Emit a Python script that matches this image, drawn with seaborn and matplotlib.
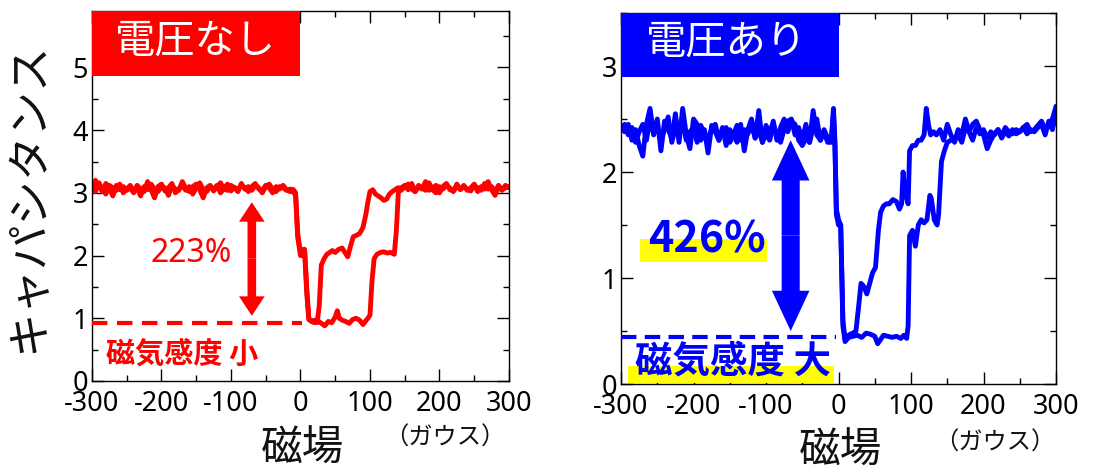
import numpy as np
import pandas as pd
import matplotlib
matplotlib.use("Agg")
import matplotlib.pyplot as plt
import seaborn as sns
from matplotlib.patches import Rectangle, FancyArrowPatch
from matplotlib.ticker import MultipleLocator

# ---------------- data ----------------
# flat part of each sweep, field -300 .. -15 G every 5 G
red_a_left = [3.05, 3.20, 3.10, 3.02, 3.15, 3.08, 2.95, 3.12, 3.05, 3.10,
              3.04, 3.08, 3.00, 3.12, 3.06, 3.02, 3.18, 3.05, 2.92, 3.10,
              3.14, 3.03, 3.08, 3.15, 3.00, 3.06, 3.12, 3.04, 3.10, 2.98,
              3.08, 3.16, 3.05, 3.02, 3.10, 3.06, 3.12, 3.00, 3.07, 3.14,
              3.03, 3.09, 3.05, 3.12, 3.08, 3.02, 3.10, 3.15, 3.06, 3.04,
              3.12, 3.08, 3.00, 3.10, 3.06, 3.12, 3.05, 3.02]
red_a_mid_x = [-10, -7, -4, 0, 3, 6, 9, 12, 16, 20, 24, 27, 30, 34, 38, 42, 46, 50, 55, 60,
               64, 68, 72, 76, 80, 85, 90, 94, 97, 100, 104, 108, 112, 116, 120, 124, 128, 132, 136, 140]
red_a_mid_y = [3.02, 2.95, 2.30, 2.00, 2.10, 2.05, 1.40, 0.98, 0.95, 0.97,
               0.93, 1.20, 1.85, 1.95, 2.02, 2.05, 2.08, 2.05, 2.10, 2.12,
               2.05, 1.98, 2.15, 2.30, 2.32, 2.35, 2.45, 2.65, 2.85, 3.02,
               3.05, 2.98, 2.95, 2.92, 2.88, 2.90, 2.98, 3.02, 3.05, 3.08]
red_a_right_start = 145
red_a_right = [3.08, 3.12, 3.05, 3.15, 3.02, 3.10, 3.06, 3.18, 3.04, 3.08,
               3.12, 3.00, 3.10, 3.15, 3.05, 3.03, 3.10, 3.06, 3.12, 3.04,
               3.08, 3.14, 3.02, 3.10, 3.06, 3.18, 3.05, 2.96, 3.10, 3.04,
               3.12, 3.08]

red_b_left = [3.10, 3.02, 3.16, 3.06, 2.98, 3.12, 3.08, 3.04, 3.14, 3.00,
              3.06, 3.12, 3.03, 3.08, 2.95, 3.10, 3.05, 3.14, 3.06, 3.02,
              3.10, 3.08, 2.96, 3.12, 3.06, 3.04, 3.18, 3.07, 3.02, 3.10,
              3.14, 3.05, 2.92, 3.08, 3.12, 3.03, 3.10, 3.16, 3.06, 3.04,
              3.12, 3.08, 3.02, 3.15, 3.06, 3.10, 3.04, 3.12, 3.08, 3.00,
              3.10, 3.14, 3.06, 3.02, 3.10, 3.08, 3.04, 3.06]
red_b_mid_x = [-10, -7, -4, 0, 3, 6, 9, 12, 16, 20, 25, 30, 35, 40, 45, 50, 53, 56, 60, 65,
               70, 75, 80, 85, 90, 94, 97, 100, 103, 106, 110, 115, 120, 125, 130, 135, 138, 141]
red_b_mid_y = [3.05, 3.00, 2.35, 2.05, 2.00, 2.10, 1.50, 1.00, 0.95, 0.93,
               0.96, 0.92, 0.88, 0.95, 0.93, 1.02, 1.12, 1.00, 0.97, 0.95,
               0.92, 0.98, 1.00, 0.97, 0.90, 0.96, 1.00, 1.05, 1.60, 1.95,
               2.02, 2.05, 2.06, 2.04, 2.05, 2.02, 2.40, 3.05]
red_b_right_start = 145
red_b_right = [3.04, 3.10, 3.14, 3.06, 3.02, 3.12, 3.08, 3.04, 3.16, 3.05,
               3.00, 3.10, 3.06, 3.12, 3.08, 3.02, 3.14, 3.05, 3.10, 3.06,
               3.03, 3.12, 3.08, 3.04, 3.15, 3.06, 3.10, 3.02, 3.12, 3.05,
               3.08, 3.10]

blue_a_left = [2.42, 2.38, 2.45, 2.30, 2.40, 2.25, 2.15, 2.45, 2.60, 2.35,
               2.50, 2.20, 2.48, 2.40, 2.32, 2.55, 2.28, 2.60, 2.35, 2.22,
               2.50, 2.45, 2.30, 2.40, 2.18, 2.44, 2.38, 2.30, 2.42, 2.25,
               2.40, 2.35, 2.28, 2.45, 2.20, 2.40, 2.50, 2.32, 2.58, 2.28,
               2.36, 2.30, 2.44, 2.35, 2.28, 2.40, 2.48, 2.50, 2.35, 2.42,
               2.30, 2.45, 2.28, 2.58, 2.35, 2.30, 2.40, 2.32]
blue_a_mid_x = [-10, -7, -5, -3, 0, 3, 6, 9, 12, 16, 20, 24, 28, 31, 35, 39, 43, 47, 51, 55,
                58, 62, 66, 70, 75, 80, 84, 87, 89, 92, 96, 98, 102, 106, 110, 114, 118, 121, 124, 127,
                131, 135, 140]
blue_a_mid_y = [2.30, 2.60, 2.30, 1.60, 1.50, 1.50, 0.60, 0.42, 0.45, 0.47,
                0.48, 0.50, 0.75, 0.95, 0.92, 0.85, 0.95, 1.05, 1.10, 1.45,
                1.62, 1.68, 1.70, 1.70, 1.74, 1.72, 1.65, 1.70, 2.00, 1.80,
                1.70, 2.20, 2.25, 2.25, 2.30, 2.30, 2.35, 2.60, 2.45, 2.35,
                2.38, 2.35, 2.40]
blue_a_right_start = 145
blue_a_right = [2.30, 2.45, 2.35, 2.28, 2.40, 2.35, 2.50, 2.38, 2.30, 2.42,
                2.36, 2.40, 2.32, 2.38, 2.35, 2.40, 2.34, 2.42, 2.38, 2.36,
                2.40, 2.38, 2.42, 2.45, 2.38, 2.40, 2.44, 2.48, 2.40, 2.45,
                2.50, 2.62]

blue_b_left = [2.40, 2.45, 2.35, 2.42, 2.28, 2.38, 2.45, 2.30, 2.50, 2.36,
               2.44, 2.30, 2.40, 2.52, 2.28, 2.42, 2.35, 2.46, 2.30, 2.38,
               2.42, 2.28, 2.44, 2.36, 2.32, 2.40, 2.45, 2.30, 2.38, 2.42,
               2.28, 2.35, 2.44, 2.30, 2.40, 2.36, 2.45, 2.32, 2.40, 2.28,
               2.44, 2.36, 2.48, 2.30, 2.42, 2.50, 2.38, 2.48, 2.45, 2.30,
               2.25, 2.32, 2.28, 2.42, 2.50, 2.30, 2.38, 2.28]
blue_b_mid_x = [-10, -7, -5, -3, 0, 3, 6, 9, 14, 20, 26, 32, 38, 44, 50, 54, 58, 62, 68, 74,
                80, 86, 90, 94, 96, 98, 102, 106, 110, 114, 118, 122, 126, 128, 132, 136, 138, 142, 146, 150,
                155, 160]
blue_b_mid_y = [2.28, 2.55, 2.25, 1.65, 1.55, 1.50, 0.55, 0.40, 0.44, 0.45,
                0.46, 0.44, 0.48, 0.47, 0.45, 0.38, 0.42, 0.46, 0.45, 0.44,
                0.45, 0.43, 0.46, 0.43, 0.55, 1.40, 1.45, 1.30, 1.50, 1.55,
                1.52, 1.55, 1.78, 1.75, 1.55, 1.50, 1.60, 2.10, 2.20, 2.28,
                2.30, 2.32]
blue_b_right_start = 165
blue_b_right = [2.35, 2.28, 2.42, 2.38, 2.45, 2.48, 2.40, 2.35, 2.22, 2.30,
                2.36, 2.40, 2.32, 2.38, 2.34, 2.40, 2.36, 2.38, 2.42, 2.36,
                2.40, 2.38, 2.42, 2.45, 2.35, 2.48, 2.40, 2.55]

red_min_level = 0.92
blue_min_level = 0.445
red_ratio_label = "223%"
blue_ratio_label = "426%"
x_ticks = [-300, -200, -100, 0, 100, 200, 300]


def branch(left, mx, my, rstart, right, name):
    xl = np.arange(-300, -14, 5)
    xr = np.arange(rstart, 301, 5)
    assert len(xl) == len(left), (name, len(left))
    assert len(xr) == len(right), (name, len(right))
    assert len(mx) == len(my), (name, len(mx), len(my))
    x = np.concatenate([xl, mx, xr])
    y = np.concatenate([left, my, right])
    return pd.DataFrame({"field": x, "cap": y, "branch": name})


df_red = pd.concat([
    branch(red_a_left, red_a_mid_x, red_a_mid_y, red_a_right_start, red_a_right, "a"),
    branch(red_b_left, red_b_mid_x, red_b_mid_y, red_b_right_start, red_b_right, "b"),
])
df_blue = pd.concat([
    branch(blue_a_left, blue_a_mid_x, blue_a_mid_y, blue_a_right_start, blue_a_right, "a"),
    branch(blue_b_left, blue_b_mid_x, blue_b_mid_y, blue_b_right_start, blue_b_right, "b"),
])

# ---------------- style ----------------
sns.set_style("white")
plt.rcParams["font.family"] = ["Noto Sans", "Noto Sans CJK JP", "DejaVu Sans"]
plt.rcParams["axes.unicode_minus"] = False

RED = "#FF0000"
BLUE = "#0000FF"
YEL = "#FFFF00"
CJK = ["Noto Sans CJK JP", "DejaVu Sans"]

fig = plt.figure(figsize=(10.99, 4.72), dpi=100)
axL = fig.add_axes([0.0837, 0.1928, 0.3794, 0.7839])
axR = fig.add_axes([0.5651, 0.1864, 0.3958, 0.7860])


def style_axes(ax, ymax, ymajor):
    ax.set_xlim(-300, 300)
    ax.set_ylim(0, ymax)
    ax.set_xticks(x_ticks)
    ax.set_yticks(ymajor)
    ax.xaxis.set_minor_locator(MultipleLocator(50))
    ax.yaxis.set_minor_locator(MultipleLocator(0.5))
    ax.tick_params(which="both", direction="in", top=True, right=True,
                   bottom=True, left=True, width=1.0, color="black")
    ax.tick_params(which="major", length=8.5, labelsize=19.5, labelcolor="black")
    ax.tick_params(axis="x", which="major", pad=6.5)
    ax.tick_params(axis="y", which="major", pad=3)
    ax.tick_params(which="minor", length=4.3)
    for s in ax.spines.values():
        s.set_color("black")
        s.set_linewidth(1.0)
    ax.set_xlabel("")
    ax.set_ylabel("")
    ax.set_facecolor("white")


sns.lineplot(data=df_red, x="field", y="cap", units="branch", estimator=None,
             sort=False, color=RED, lw=3.5, ax=axL, legend=False,
             solid_joinstyle="round", solid_capstyle="round")
sns.lineplot(data=df_blue, x="field", y="cap", units="branch", estimator=None,
             sort=False, color=BLUE, lw=3.5, ax=axR, legend=False,
             solid_joinstyle="round", solid_capstyle="round")

style_axes(axL, 5.9, [0, 1, 2, 3, 4, 5])
style_axes(axR, 3.5, [0, 1, 2, 3])

# ---- left panel annotations ----
axL.add_patch(Rectangle((-300, 4.87), 300, 5.9 - 4.87, facecolor=RED,
                        edgecolor="none", zorder=5, clip_on=False))
axL.text(-151, 5.42, "電圧なし", color="white", fontsize=29, ha="center",
         va="center", family=CJK, zorder=6)
axL.plot([-300, 2], [red_min_level, red_min_level], color=RED, lw=3.0,
         dashes=(3.7, 2.3), zorder=3)
axL.text(-170, 0.43, "磁気感度 小", color=RED, fontsize=21, fontweight="bold",
         ha="center", va="center", family=CJK, zorder=6)
axL.text(-157, 2.04, red_ratio_label, color=RED, fontsize=23, ha="center",
         va="center", zorder=6)
ymidL = 1.95
for tip in (2.85, 1.04):
    axL.add_patch(FancyArrowPatch((-70, ymidL), (-70, tip),
                                  arrowstyle="simple,head_length=14,head_width=18.5,tail_width=6.2",
                                  mutation_scale=1, color=RED, lw=0, shrinkA=0, shrinkB=0,
                                  zorder=6))

# ---- right panel annotations ----
axR.add_patch(Rectangle((-300, 2.9), 300, 3.5 - 2.9, facecolor=BLUE,
                        edgecolor="none", zorder=5, clip_on=False))
axR.text(-154, 3.22, "電圧あり", color="white", fontsize=29, ha="center",
         va="center", family=CJK, zorder=6)
axR.plot([-300, -3], [blue_min_level, blue_min_level], color=BLUE, lw=3.0,
         dashes=(3.7, 2.0), zorder=3)
axR.add_patch(Rectangle((-290, 0.01), 284, 0.16, facecolor=YEL,
                        edgecolor="none", zorder=4))
axR.text(-146, 0.21, "磁気感度 大", color=BLUE, fontsize=27, fontweight="bold",
         ha="center", va="center", family=CJK, zorder=6)
axR.add_patch(Rectangle((-274, 1.15), 175, 0.22, facecolor=YEL,
                        edgecolor="none", zorder=4))
axR.text(-182, 1.36, blue_ratio_label, color=BLUE, fontsize=31, fontweight="bold",
         ha="center", va="center", family=CJK, zorder=6)
ymidR = 1.4
for tip in (2.30, 0.50):
    axR.add_patch(FancyArrowPatch((-66, ymidR), (-66, tip),
                                  arrowstyle="simple,head_length=29,head_width=27,tail_width=13",
                                  mutation_scale=1, color=BLUE, lw=0, shrinkA=0, shrinkB=0,
                                  zorder=6))

# ---- figure level labels ----
fig.text(28 / 1099, 1 - 197 / 472, "キャパシタンス", rotation=90, fontsize=32,
         ha="center", va="center", family=CJK, color="#111111")
fig.text(302 / 1099, 1 - 449 / 472, "磁場", fontsize=30, ha="center",
         va="center", family=CJK, color="#111111")
fig.text(840 / 1099, 1 - 451 / 472, "磁場", fontsize=30, ha="center",
         va="center", family=CJK, color="#111111")
fig.text(445 / 1099, 1 - 438 / 472, "（ガウス）", fontsize=17.5, ha="center",
         va="center", family=CJK, color="#111111")
fig.text(995 / 1099, 1 - 443 / 472, "（ガウス）", fontsize=17.5, ha="center",
         va="center", family=CJK, color="#111111")

fig.savefig("out.png", dpi=100, facecolor="white")
